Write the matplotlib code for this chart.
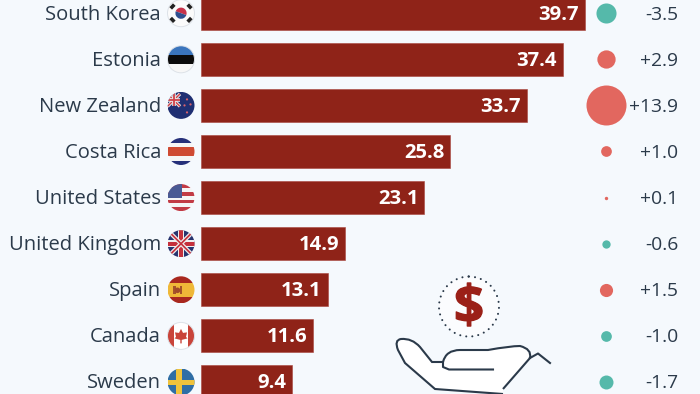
import numpy as np
from matplotlib import pyplot as plt
from matplotlib import patheffects
from matplotlib.patches import Circle, PathPatch, Polygon, Rectangle, Wedge
from matplotlib.path import Path

countries = ["South Korea", "Estonia", "New Zealand", "Costa Rica", "United States",
             "United Kingdom", "Spain", "Canada", "Sweden"]
values = [39.7, 37.4, 33.7, 25.8, 23.1, 14.9, 13.1, 11.6, 9.4]
changes = [-3.5, 2.9, 13.9, 1.0, 0.1, -0.6, 1.5, -1.0, -1.7]

BG = "#f5f9fd"
RED = "#8f2318"
TEXT = "#2b3a4a"
UP = "#e2675f"
DOWN = "#55b9aa"
FONT = "Open Sans"

BAR_LEFT = 201
PX_PER_UNIT = 9.67
ROW_TOP = 13.2
ROW_STEP = 46.1
TEXT_NUDGE = 1.5 / ROW_STEP

fig = plt.figure(figsize=(7, 3.94), dpi=100, facecolor=BG)

# bars, labels and bubbles share one axes covering the whole figure
ax = fig.add_axes([0, 0, 1, 1])
ax.set_xlim(-BAR_LEFT / PX_PER_UNIT, (700 - BAR_LEFT) / PX_PER_UNIT)
ax.set_ylim((394 - ROW_TOP) / ROW_STEP, -ROW_TOP / ROW_STEP)
ax.axis("off")

rows = np.arange(len(countries))
ax.barh(rows, values, height=33 / ROW_STEP, color=RED, edgecolor="#a8453b", linewidth=0.4)

side = ax.get_yaxis_transform()
for i, (name, val, chg) in enumerate(zip(countries, values, changes)):
    ax.text(161 / 700, i + TEXT_NUDGE, name, transform=side, ha="right", va="center",
            fontsize=14.5, color=TEXT, family=FONT)
    ax.text(val - 6 / PX_PER_UNIT, i + TEXT_NUDGE, f"{val:.1f}", ha="right", va="center",
            fontsize=14.6, color="white", family=FONT, fontweight="bold")
    ax.text(678 / 700, i + TEXT_NUDGE, f"{chg:+.1f}", transform=side, ha="right", va="center",
            fontsize=13.9, color=TEXT, family=FONT)
    # bubble area follows the size of the change
    diameter_pt = 40 * np.sqrt(abs(chg) / 13.9) * 0.72
    ax.scatter(606 / 700, i, s=diameter_pt ** 2, transform=side,
               color=UP if chg > 0 else DOWN, linewidths=0, zorder=3)

# icons are drawn on a second axes in pixel units
icons = fig.add_axes([0, 0, 1, 1])
icons.set_xlim(0, 700)
icons.set_ylim(394, 0)
icons.axis("off")
icons.patch.set_alpha(0)

FX = 181
R = 13.5


def clip_all(patches, cy, base="white"):
    clip = Circle((FX, cy), R, transform=icons.transData)
    for p in [Rectangle((FX - R, cy - R), 2 * R, 2 * R, color=base, lw=0)] + patches:
        icons.add_patch(p)
        p.set_clip_path(clip)
    return clip


def ring(cy):
    icons.add_patch(Circle((FX, cy), R, facecolor="none", edgecolor="#dde2e8", lw=0.7))


def bands(cy, colors, weights=None):
    weights = weights or [1] * len(colors)
    out = []
    y = cy - R
    for c, w in zip(colors, weights):
        h = 2 * R * w / sum(weights)
        out.append(Rectangle((FX - R, y), 2 * R, h, color=c, lw=0))
        y += h
    return out


def cross(cy, cx, color, w):
    return [Rectangle((cx - w / 2, cy - R), w, 2 * R, color=color, lw=0),
            Rectangle((FX - R, cy - w / 2), 2 * R, w, color=color, lw=0)]


def diag(x0, y0, x1, y1, color, w):
    return icons.plot([x0, x1], [y0, y1], color=color, lw=w, solid_capstyle="butt")[0]


def flag_korea(cy):
    parts = [Wedge((FX, cy), 5.6, 200, 20, color="#c8324a", lw=0),
             Wedge((FX, cy), 5.6, 20, 200, color="#2f4f8f", lw=0)]
    clip_all(parts, cy, base="#fbfbfb")
    for dx, dy in [(-1, -1), (1, -1), (-1, 1), (1, 1)]:
        diag(FX + dx * 10.3, cy + dy * 4.8, FX + dx * 6.7, cy + dy * 8.6, "#222222", 2.6)
    ring(cy)


def flag_estonia(cy):
    clip_all(bands(cy, ["#3a75bd", "#0b0b0b", "#f7f7f7"]), cy)
    ring(cy)


def flag_nz(cy):
    clip = clip_all([Rectangle((FX - R, cy - R), 2 * R, 2 * R, color="#1f2f72", lw=0)], cy)
    # union jack in the upper left corner
    for w, c in [(2.4, "#e8e8e8"), (1.0, "#d0424a")]:
        diag(FX - R, cy - R + 2, FX - 1, cy + 1, c, w).set_clip_path(clip)
        diag(FX - R, cy + 1, FX - 1, cy - R + 2, c, w).set_clip_path(clip)
    for w, c, in [(2.6, "#e8e8e8"), (1.3, "#d0424a")]:
        diag(FX - R, cy - 5.5, FX - 1, cy - 5.5, c, w).set_clip_path(clip)
        diag(FX - 7, cy - R, FX - 7, cy + 1, c, w).set_clip_path(clip)
    for dx, dy in [(6, -6), (9.5, -1), (3.5, 0), (6, 7)]:
        icons.add_patch(Circle((FX + dx, cy + dy), 1.1, color="#d8606a", lw=0))


def flag_costa_rica(cy):
    clip_all(bands(cy, ["#25307a", "#f5f5f5", "#cf4a32", "#f5f5f5", "#25307a"],
                   [1, 1, 2, 1, 1]), cy)


def flag_us(cy):
    stripes = ["#c23b45", "#f5f5f5"] * 3 + ["#c23b45"]
    parts = bands(cy, stripes)
    parts.append(Rectangle((FX - R, cy - R), R + 1, R, color="#4a5a94", lw=0))
    clip_all(parts, cy)


def flag_uk(cy):
    clip = clip_all([Rectangle((FX - R, cy - R), 2 * R, 2 * R, color="#27346f", lw=0)], cy)
    for w, c in [(3.0, "#eeeeee"), (1.2, "#c5303c")]:
        for s in (1, -1):
            diag(FX - R, cy - s * R, FX + R, cy + s * R, c, w).set_clip_path(clip)
    for p in cross(cy, FX, "#eeeeee", 6.5) + cross(cy, FX, "#c5303c", 3.8):
        icons.add_patch(p)
        p.set_clip_path(clip)


def flag_spain(cy):
    parts = bands(cy, ["#a8281f", "#efb838", "#a8281f"], [1, 2, 1])
    clip_all(parts, cy)
    icons.add_patch(Rectangle((FX - 8, cy - 3.5), 2.5, 8, color="#a5542a", lw=0))
    icons.add_patch(Rectangle((FX - 1.5, cy - 3.5), 2.5, 8, color="#a5542a", lw=0))
    icons.add_patch(Circle((FX - 3.5, cy + 0.5), 2.8, color="#a04a2a", lw=0))


def flag_canada(cy):
    parts = [Rectangle((FX - R, cy - R), 6.5, 2 * R, color="#c9443a", lw=0),
             Rectangle((FX + R - 6.5, cy - R), 6.5, 2 * R, color="#c9443a", lw=0),
             Polygon([[FX, cy - 7], [FX + 2, cy - 3], [FX + 6, cy - 3.5], [FX + 5, cy + 1],
                      [FX + 6.5, cy + 2.5], [FX + 0.7, cy + 4], [FX + 0.7, cy + 7.5],
                      [FX - 0.7, cy + 7.5], [FX - 0.7, cy + 4], [FX - 6.5, cy + 2.5],
                      [FX - 5, cy + 1], [FX - 6, cy - 3.5], [FX - 2, cy - 3]],
                     color="#c9443a", lw=0)]
    clip_all(parts, cy)
    ring(cy)


def flag_sweden(cy):
    parts = [Rectangle((FX - R, cy - R), 2 * R, 2 * R, color="#2f6ea5", lw=0),
             Rectangle((FX - 5, cy - R), 6, 2 * R, color="#efc33c", lw=0),
             Rectangle((FX - R, cy - 2.5), 2 * R, 5, color="#efc33c", lw=0)]
    clip_all(parts, cy)


flags = [flag_korea, flag_estonia, flag_nz, flag_costa_rica, flag_us,
         flag_uk, flag_spain, flag_canada, flag_sweden]
for i, draw in enumerate(flags):
    draw(ROW_TOP + ROW_STEP * i)

# coin with dollar sign
coin = Circle((469, 306.5), 30, facecolor="#fbfcfe", edgecolor="#2b3a4a", lw=1.5,
              linestyle=(0, (0.01, 2.9)), capstyle="round")
icons.add_patch(coin)
icons.text(469, 309, "$", ha="center", va="center", fontsize=38, color="#9b2018",
           family=FONT, fontweight="bold",
           path_effects=[patheffects.withStroke(linewidth=0.9, foreground="#9b2018")])

# open hand, traced as curves
C3, L = Path.CURVE3, Path.LINETO
hand = [((503, 394), Path.MOVETO), ((435, 389), L), ((405, 363), L), ((398, 350), L),
        ((394, 340), C3), ((401, 339), C3), ((412, 338), C3), ((420, 347), C3),
        ((432, 362), L), ((443, 362), L), ((446, 350), C3), ((460, 350), C3),
        ((488, 350), L), ((510, 346), C3), ((520, 346), C3), ((532, 349), C3),
        ((530, 358), L), ((503, 389), L)]
hand_path = Path([p for p, _ in hand], [c for _, c in hand])
icons.add_patch(PathPatch(hand_path, facecolor="white", edgecolor=TEXT, lw=1.5))
icons.plot([443, 443, 449, 493], [362, 367, 369.5, 369.5], color=TEXT, lw=1.5)
icons.plot([530, 538, 550], [358, 353.5, 363], color=TEXT, lw=1.5)

fig.savefig("out.png", dpi=100, facecolor=BG)
